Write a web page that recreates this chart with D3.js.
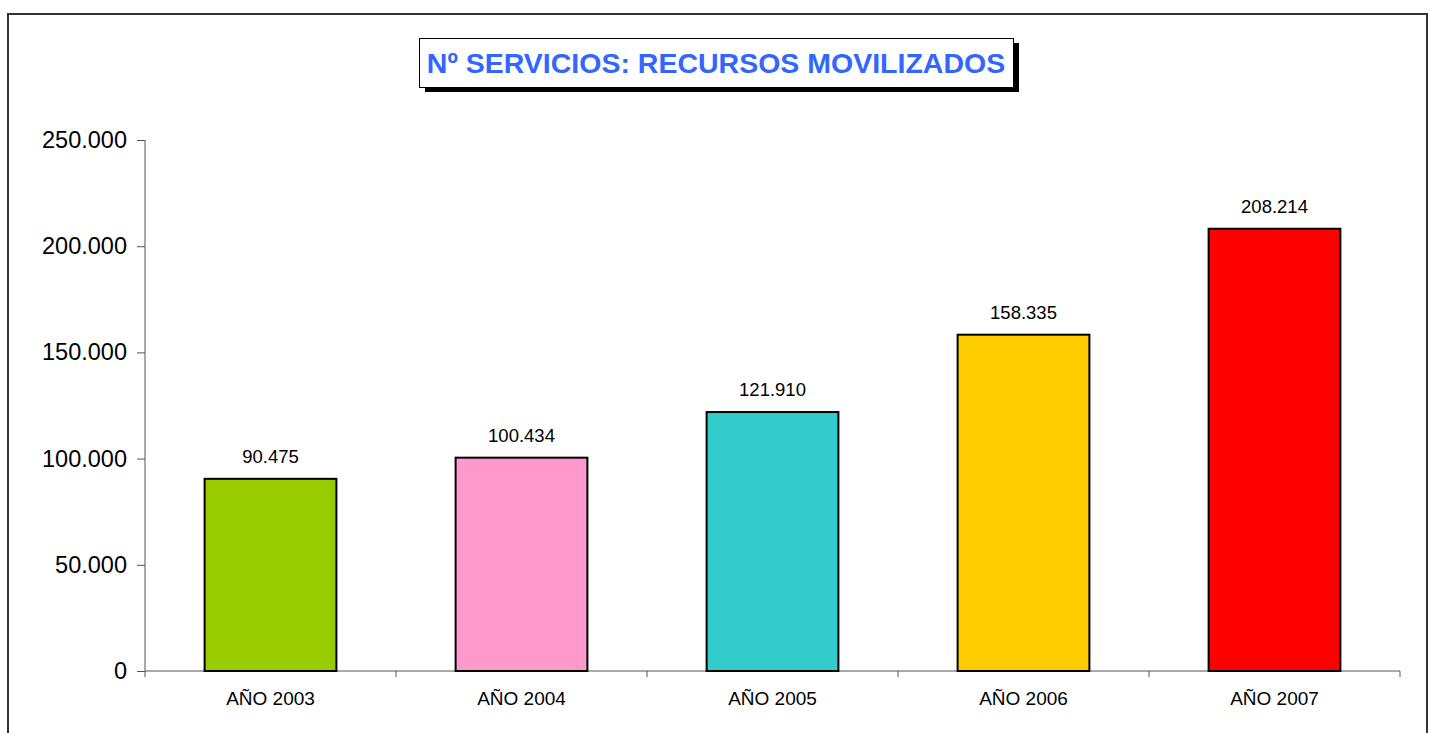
<!DOCTYPE html>
<html>
    <head>
        <title>Nº servicios: recursos movilizados</title>
        <meta charset="UTF-8">
        <script src="https://d3js.org/d3.v7.min.js" charset="utf-8"></script>
        <style>
            body { margin: 0; background: #fff; }
            text { font-family: "Liberation Sans", Arial, sans-serif; }
        </style>
    </head>
    <body>
        <script>
            var categories = ["AÑO 2003", "AÑO 2004", "AÑO 2005", "AÑO 2006", "AÑO 2007"];
            var values = [90475, 100434, 121910, 158335, 208214];
            var colors = ["#99CC00", "#FF99CC", "#33CCCC", "#FFCC00", "#FF0000"];
            var yTicks = [0, 50000, 100000, 150000, 200000, 250000];

            var fmt = function(v){
                return d3.format(",")(v).replace(/,/g, ".");
            };

            var svg = d3.select("body").append("svg")
                .attr("width", 1430)
                .attr("height", 733);

            // outer frame
            svg.append("rect")
                .attr("x", 8).attr("y", 14)
                .attr("width", 1419).attr("height", 740)
                .attr("fill", "none")
                .attr("stroke", "#333")
                .attr("stroke-width", 2);

            var pLeft = 145, pRight = 1400, pTop = 140, pBottom = 671;

            var x = d3.scaleBand()
                .domain(categories)
                .range([pLeft, pRight])
                .paddingInner(0.475)
                .paddingOuter(0.2375);

            var y = d3.scaleLinear()
                .domain([0, 250000])
                .range([pBottom, pTop]);

            // y axis
            var yAxis = svg.append("g")
                .attr("transform", "translate(" + pLeft + ",0)")
                .call(d3.axisLeft(y).tickValues(yTicks).tickSize(8).tickPadding(10)
                    .tickFormat(function(d){ return d === 0 ? "0" : fmt(d); }));
            yAxis.selectAll("text").attr("font-size", 23.5).attr("fill", "#000")
                .style("font-family", "'Liberation Sans', Arial, sans-serif");
            yAxis.selectAll("line, path").attr("stroke", "#555");
            yAxis.select(".domain").attr("d", "M0," + pTop + "V" + pBottom);

            // x axis
            var xAxis = svg.append("g")
                .attr("transform", "translate(0," + pBottom + ")");
            xAxis.append("line")
                .attr("x1", pLeft).attr("x2", pRight)
                .attr("stroke", "#555");
            xAxis.selectAll(".sep").data(d3.range(categories.length + 1)).enter()
                .append("line")
                .attr("x1", function(i){ return pLeft + i * (pRight - pLeft) / categories.length; })
                .attr("x2", function(i){ return pLeft + i * (pRight - pLeft) / categories.length; })
                .attr("y1", 0).attr("y2", 6)
                .attr("stroke", "#555");
            xAxis.selectAll(".lab").data(categories).enter()
                .append("text")
                .attr("x", function(d){ return x(d) + x.bandwidth() / 2; })
                .attr("y", 34)
                .attr("text-anchor", "middle")
                .attr("font-size", 19)
                .text(function(d){ return d; });

            // bars
            svg.selectAll(".bar").data(values).enter()
                .append("rect")
                .attr("x", function(d, i){ return x(categories[i]); })
                .attr("y", function(d){ return y(d); })
                .attr("width", x.bandwidth())
                .attr("height", function(d){ return pBottom - y(d); })
                .attr("fill", function(d, i){ return colors[i]; })
                .attr("stroke", "#000")
                .attr("stroke-width", 2);

            svg.selectAll(".val").data(values).enter()
                .append("text")
                .attr("x", function(d, i){ return x(categories[i]) + x.bandwidth() / 2; })
                .attr("y", function(d){ return y(d) - 16; })
                .attr("text-anchor", "middle")
                .attr("font-size", 18.5)
                .text(function(d){ return fmt(d); });

            // title box with shadow
            svg.append("rect")
                .attr("x", 425).attr("y", 43)
                .attr("width", 594).attr("height", 49)
                .attr("fill", "#000");
            svg.append("rect")
                .attr("x", 419.5).attr("y", 38.5)
                .attr("width", 594).attr("height", 49)
                .attr("fill", "#fff")
                .attr("stroke", "#000")
                .attr("stroke-width", 1);
            svg.append("text")
                .attr("x", 716).attr("y", 73)
                .attr("text-anchor", "middle")
                .attr("font-size", 28.5)
                .attr("font-weight", "bold")
                .attr("fill", "#3366FF")
                .text("Nº SERVICIOS: RECURSOS MOVILIZADOS");
        </script>
    </body>
</html>
